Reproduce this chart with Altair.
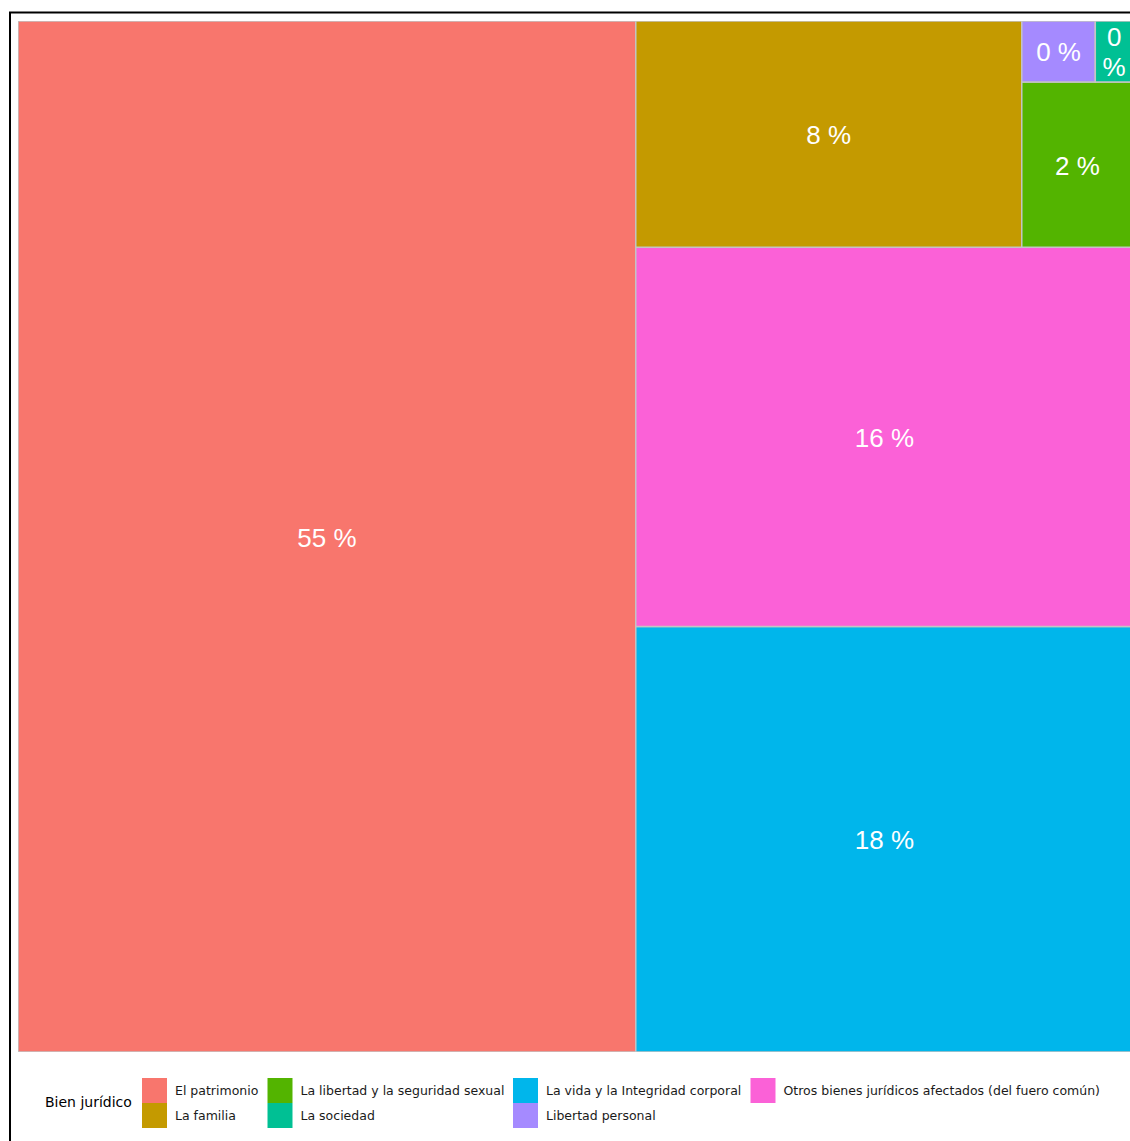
import altair as alt
import pandas as pd

# ---- data (percent of total) ----
categories = [
    "El patrimonio",
    "La vida y la Integridad corporal",
    "Otros bienes jurídicos afectados (del fuero común)",
    "La familia",
    "La libertad y la seguridad sexual",
    "Libertad personal",
    "La sociedad",
]
percentages = [55.4, 18.4, 16.4, 7.6, 1.6, 0.39, 0.2]

# legend order (alphabetical, filled column-wise in 2 rows)
legend_order = [
    "El patrimonio",
    "La familia",
    "La libertad y la seguridad sexual",
    "La sociedad",
    "La vida y la Integridad corporal",
    "Libertad personal",
    "Otros bienes jurídicos afectados (del fuero común)",
]
legend_colors = ["#F8766D", "#C49A00", "#53B400", "#00C094", "#00B6EB", "#A58AFF", "#FB61D7"]

# ---- squarified treemap layout (start bottom-left, like treemapify) ----
W, H = 1115.0, 1031.0


def worst(areas, side):
    s = sum(areas)
    return max(max(side * side * a / (s * s), s * s / (side * side * a)) for a in areas)


def layout(vals, x, y, w, h, out):
    if not vals:
        return
    if len(vals) == 1:
        n, a = vals[0]
        out.append((n, x, y, w, h))
        return
    side = min(w, h)
    row = [vals[0]]
    i = 1
    while i < len(vals):
        new = row + [vals[i]]
        if worst([a for _, a in new], side) <= worst([a for _, a in row], side):
            row = new
            i += 1
        else:
            break
    s = sum(a for _, a in row)
    if w >= h:
        cw = s / h
        yy = y
        for n, a in row:
            rh = a / cw
            out.append((n, x, yy, cw, rh))
            yy += rh
        layout(vals[i:], x + cw, y, w - cw, h, out)
    else:
        rh = s / w
        xx = x
        for n, a in row:
            rw = a / rh
            out.append((n, xx, y, rw, rh))
            xx += rw
        layout(vals[i:], x, y + rh, w, h - rh, out)


total = sum(percentages)
pct = dict(zip(categories, percentages))
items = sorted([(c, p / total * W * H) for c, p in zip(categories, percentages)], key=lambda t: -t[1])
boxes = []
layout(items, 0.0, 0.0, W, H, boxes)

LINE_H = 30.0  # layout units == pixels
rect_rows, text_rows = [], []
for name, x, y, w, h in boxes:
    rect_rows.append(dict(cat=name, x0=x, x1=x + w, y0=y, y1=y + h))
    lab = f"{round(pct[name])} %"
    lines = lab.split(" ") if w < 50 else [lab]
    n = len(lines)
    for k, ln in enumerate(lines):
        text_rows.append(dict(cx=x + w / 2, cy=y + h / 2 - (k - (n - 1) / 2) * LINE_H, label=ln))
df = pd.DataFrame(rect_rows)
dft = pd.DataFrame(text_rows)

xs = alt.Scale(domain=[0, 1112], nice=False, zero=False)
ys = alt.Scale(domain=[0, H], nice=False, zero=False)

rects = alt.Chart(df).mark_rect(stroke="#c4c4c4", strokeWidth=1.5, clip=True).encode(
    x=alt.X("x0:Q", scale=xs, axis=None),
    x2="x1:Q",
    y=alt.Y("y0:Q", scale=ys, axis=None),
    y2="y1:Q",
    color=alt.Color(
        "cat:N",
        scale=alt.Scale(domain=legend_order, range=legend_colors),
        legend=alt.Legend(
            title="Bien jurídico",
            orient="none",
            legendX=27,
            legendY=1057,
            columns=4,
            symbolType="square",
            symbolSize=625,
            symbolStrokeWidth=0,
            symbolOpacity=1,
            rowPadding=0,
            columnPadding=8.5,
            labelOffset=8,
            labelFont="DejaVu Sans",
            labelFontSize=12.5,
            labelColor="#1a1a1a",
            labelLimit=500,
            titleOrient="left",
            titleAnchor="middle",
            titleFont="DejaVu Sans",
            titleFontSize=14,
            titleFontWeight="normal",
            titleColor="black",
            titlePadding=10,
        ),
    ),
)

texts = alt.Chart(dft).mark_text(
    color="white", fontSize=26, font="Liberation Sans",
    baseline="middle", align="center", clip=True, dy=2
).encode(
    x=alt.X("cx:Q", scale=xs, axis=None),
    y=alt.Y("cy:Q", scale=ys, axis=None),
    text="label:N",
)

frame = alt.Chart(pd.DataFrame({"a": [0]})).mark_rect(
    filled=False, stroke="black", strokeWidth=2, clip=False
).encode(
    x=alt.value(-8), x2=alt.value(1300), y=alt.value(-8.5), y2=alt.value(1300)
)

chart = alt.layer(rects, texts, frame).properties(
    width=1112,
    height=1031,
    autosize=alt.AutoSizeParams(type="none"),
    padding={"left": 18, "top": 21, "right": 0, "bottom": 89},
    background="white",
).configure_view(stroke=None)

chart.save("out.html", embed_options={"renderer": "svg", "actions": False})
